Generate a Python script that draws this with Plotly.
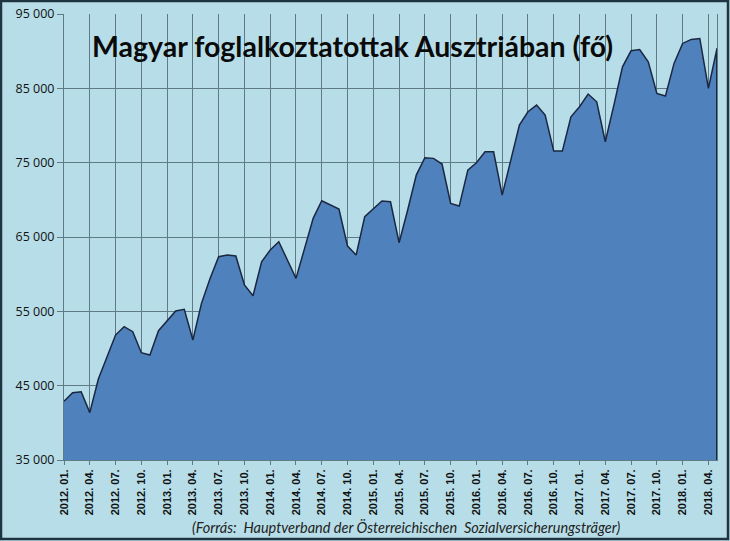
import plotly.graph_objects as go

# havi adatok 2012.01 - 2018.05
years = [2012, 2013, 2014, 2015, 2016, 2017, 2018]
employed = [
    42900, 44050, 44190, 41370, 45900, 48900, 51810, 52930, 52260, 49430, 49120, 52400,
    53740, 55040, 55270, 51140, 56070, 59430, 62340, 62570, 62440, 58540, 57100, 61660,
    63250, 64370, 61900, 59430, 63470, 67510, 69880, 69300, 68760, 63780, 62570, 67730,
    68720, 69840, 69740, 64230, 68630, 73330, 75660, 75580, 74810, 69520, 69160, 74000,
    74990, 76470, 76470, 70640, 75350, 80060, 81850, 82750, 81400, 76560, 76560, 81170,
    82520, 84230, 83190, 77810, 82750, 87900, 90050, 90230, 88570, 84310, 83960, 88350,
    91040, 91580, 91710, 85000, 90370,
]

labels = []
for y in years:
    for m in range(1, 13):
        labels.append(f"{y}. {m:02d}.")
labels = labels[:len(employed)]
x = list(range(len(employed)))
tick_idx = list(range(0, len(employed), 3))

bg = '#B7DEE8'
grid = '#5F7A84'
dark = '#1B2740'

fig = go.Figure()
fig.add_trace(go.Scatter(
    x=x, y=employed, mode='lines', fill='tozeroy',
    fillcolor='#4F81BD', line=dict(color=dark, width=1.5),
    hoverinfo='skip', showlegend=False,
))

fig.update_layout(
    width=730, height=541,
    margin=dict(l=64, r=13, t=14, b=81),
    paper_bgcolor=bg, plot_bgcolor=bg,
    separators='. ',
    font=dict(family='Open Sans', color='#111'),
)
fig.update_xaxes(
    range=[0, len(employed) - 1], automargin=False,
    tickvals=tick_idx, ticktext=[labels[i] for i in tick_idx],
    tickangle=-90, ticks='outside', ticklen=4, tickcolor=grid,
    tickfont=dict(family='Liberation Sans', size=11, color='#111', weight='bold'),
    showgrid=True, gridcolor=grid, gridwidth=1.2,
    showline=True, linecolor=grid, zeroline=False,
)
fig.update_yaxes(
    range=[35000, 95000], tick0=35000, dtick=10000, tickformat=',d',
    automargin=False,
    ticks='outside', ticklen=6, tickcolor=grid,
    tickfont=dict(size=12.5, color='#111'),
    showgrid=True, gridcolor=grid, gridwidth=1.2,
    showline=True, linecolor=grid, mirror=True, zeroline=False,
)

# a terület jobb széle az utolsó hónaptól lefelé
fig.add_shape(
    type='line', xref='x', yref='y',
    x0=x[-1], x1=x[-1], y0=35000, y1=employed[-1],
    line=dict(color=dark, width=2),
)

fig.add_annotation(
    text='<b>Magyar foglalkoztatottak Ausztriában (fő)</b>',
    xref='paper', yref='paper', x=(90 - 64) / 653, y=(460 - 46) / 446,
    xanchor='left', yanchor='middle', showarrow=False,
    font=dict(family='Lato', size=28.5, color='#0A0A0A'),
)
fig.add_annotation(
    text='<i>(Forrás:  Hauptverband der Österreichischen  Sozialversicherungsträger)</i>',
    xref='paper', yref='paper', x=(406 - 64) / 653, y=(460 - 527) / 446,
    xanchor='center', yanchor='middle', showarrow=False,
    font=dict(family='Lato', size=14.5, color='#222'),
)
# keret a kép körül
fig.add_shape(
    type='rect', xref='paper', yref='paper',
    x0=(1 - 64) / 653, x1=(728 - 64) / 653,
    y0=(460 - 539) / 446, y1=(460 - 1) / 446,
    line=dict(color='#1E3440', width=2.5),
)

fig.write_html("out.html", config={'displayModeBar': False},
               post_script="document.body.style.margin='0';")
